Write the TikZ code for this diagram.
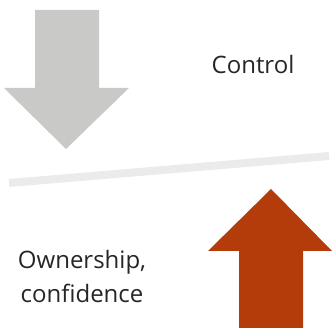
\documentclass[tikz,border=0pt]{standalone}
\usepackage{fontspec}
\setmainfont{Open Sans}
\usepackage{tikz}
\usetikzlibrary{positioning}
\definecolor{downgray}{HTML}{C9CAC8}
\definecolor{upred}{HTML}{B33C0A}
\definecolor{linegray}{HTML}{EBEBEB}
\tikzstyle{label}=[inner sep=0mm, text=black!85, font=\fontsize{24}{34}\selectfont, align=center]
\tikzstyle{bar}=[draw=linegray, line width=8pt]

\begin{document}
\begin{tikzpicture}[x=1pt,y=-1pt]
        \useasboundingbox (0,0) rectangle (332,328);
        \fill[downgray] (35,10) -- (99,10) -- (99,88) -- (129,88) -- (66,149) -- (4,88) -- (35,88) -- cycle;
        \fill[upred] (239,328) -- (303,328) -- (303,251) -- (332,251) -- (271,189) -- (208,251) -- (239,251) -- cycle;
        \coordinate (left) at (9,183);
        \coordinate (right) at (329,156);
        \draw[bar] (left) -- (right);
        \node[label, anchor=base] at (253,74) (ctrl) {Control};
        \node[label, anchor=base] at (82,303) (own) {Ownership,\\confidence};
      \end{tikzpicture}
\end{document}
